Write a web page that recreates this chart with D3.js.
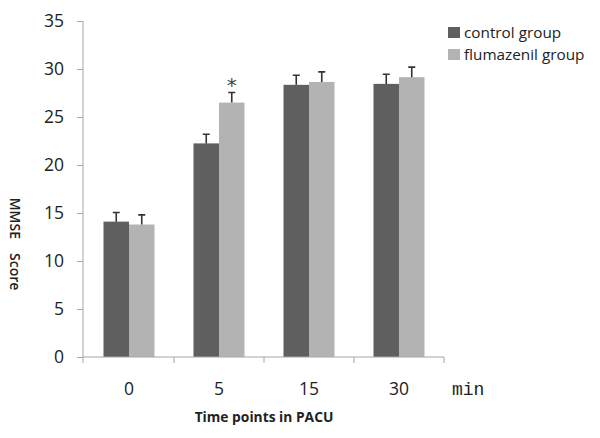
<!DOCTYPE html>
<html><head><meta charset="utf-8">
<script src="https://cdn.jsdelivr.net/npm/d3@7"></script>
<style>body{margin:0;background:#fff}svg{display:block}</style>
</head><body>
<script>
const categories = ["0", "5", "15", "30"];
const seriesNames = ["control group", "flumazenil group"];
const controlMeans = [14.1, 22.25, 28.35, 28.45];
const controlErr = [0.95, 0.95, 1.0, 1.0];
const flumaMeans = [13.8, 26.5, 28.65, 29.15];
const flumaErr = [1.0, 1.05, 1.05, 1.05];
const yTicks = [0, 5, 10, 15, 20, 25, 30, 35];
const significant = ["5"];
const colors = ["#5f5f5f", "#b3b3b3"];

const W = 600, H = 438;
const svg = d3.select("body").append("svg").attr("width", W).attr("height", H);
const x0 = 84, x1 = 444, yTop = 21, yBot = 357;
const x = d3.scaleBand().domain(categories).range([x0, x1]).padding(0);
const y = d3.scaleLinear().domain([0, 35]).range([yBot, yTop]);
const sub = d3.scaleBand().domain([0, 1]).range([0, 51]);

const data = categories.map((c, i) => ({c, vals: [
  {s: 0, m: controlMeans[i], e: controlErr[i]},
  {s: 1, m: flumaMeans[i], e: flumaErr[i]}]}));

const axisColor = "#a6a6a6";
// y axis
const ya = svg.append("g").attr("transform", `translate(${x0 - 1},0)`)
  .call(d3.axisLeft(y).tickValues(yTicks).tickSize(6).tickPadding(13));
ya.select(".domain").attr("stroke", axisColor).attr("d", `M0,${yTop}V${yBot}`);
ya.selectAll(".tick line").attr("stroke", axisColor);
ya.selectAll(".tick text").attr("font-family", "Open Sans, sans-serif").attr("font-size", 17.5).attr("fill", "#222");

// bars
const g = svg.append("g");
const groups = g.selectAll("g.grp").data(data).join("g")
  .attr("transform", d => `translate(${x(d.c) + x.bandwidth()/2 - 25.5},0)`);
groups.selectAll("rect").data(d => d.vals).join("rect")
  .attr("x", d => sub(d.s)).attr("width", sub.bandwidth())
  .attr("y", d => y(d.m)).attr("height", d => y(0) - y(d.m))
  .attr("fill", d => colors[d.s]);
// error bars
groups.selectAll("path.err").data(d => d.vals).join("path").attr("class", "err")
  .attr("d", d => {
    const cx = sub(d.s) + sub.bandwidth()/2;
    return `M${cx},${y(d.m)}V${y(d.m + d.e)}M${cx - 3.5},${y(d.m + d.e)}H${cx + 3.5}`;
  })
  .attr("stroke", "#333").attr("stroke-width", 1.6).attr("fill", "none");
// asterisk
groups.filter(d => significant.includes(d.c)).append("text")
  .attr("x", sub(1) + sub.bandwidth()/2)
  .attr("y", d => y(d.vals[1].m + d.vals[1].e) - 1)
  .attr("text-anchor", "middle").attr("font-family", "DejaVu Sans, sans-serif")
  .attr("font-size", 20).attr("fill", "#444").text("*");

// x axis
const xa = svg.append("g").attr("transform", `translate(0,${yBot})`);
xa.append("path").attr("d", `M${x0 - 1},0H${x1}`).attr("stroke", axisColor).attr("fill", "none");
const bounds = [x0 - 1].concat(categories.map(c => x(c) + x.bandwidth()));
xa.selectAll("line.t").data(bounds).join("line").attr("class", "t")
  .attr("x1", d => d).attr("x2", d => d).attr("y1", 0).attr("y2", 6).attr("stroke", axisColor);
xa.selectAll("text.lbl").data(categories).join("text").attr("class", "lbl")
  .attr("x", d => x(d) + x.bandwidth()/2).attr("y", 38)
  .attr("text-anchor", "middle").attr("font-family", "Open Sans, sans-serif")
  .attr("font-size", 17.5).attr("fill", "#222").text(d => d);
svg.append("text").attr("x", 452).attr("y", 395).attr("font-family", "Liberation Mono, monospace")
  .attr("font-size", 18).attr("fill", "#222").text("min");
svg.append("text").attr("x", 264).attr("y", 422).attr("text-anchor", "middle")
  .attr("font-family", "Open Sans, sans-serif").attr("font-weight", "bold")
  .attr("font-size", 13.8).attr("fill", "#222").text("Time points in PACU");
const yl = svg.append("text").attr("transform", "translate(10,244) rotate(90)").attr("text-anchor", "middle")
  .attr("font-family", "Open Sans, sans-serif").attr("font-weight", "600")
  .attr("font-size", 14).attr("fill", "#222");
yl.append("tspan").text("MMSE");
yl.append("tspan").attr("dx", 14).text("Score");

// legend
const lg = svg.append("g").attr("transform", "translate(448,27)");
const li = lg.selectAll("g").data(seriesNames).join("g").attr("transform", (d, i) => `translate(0,${i * 22})`);
li.append("rect").attr("width", 12).attr("height", 11).attr("fill", (d, i) => colors[i]);
li.append("text").attr("x", 16).attr("y", 10.5).attr("font-family", "Open Sans, sans-serif")
  .attr("font-size", 15.3).attr("fill", "#222").text(d => d);
</script>
</body></html>
